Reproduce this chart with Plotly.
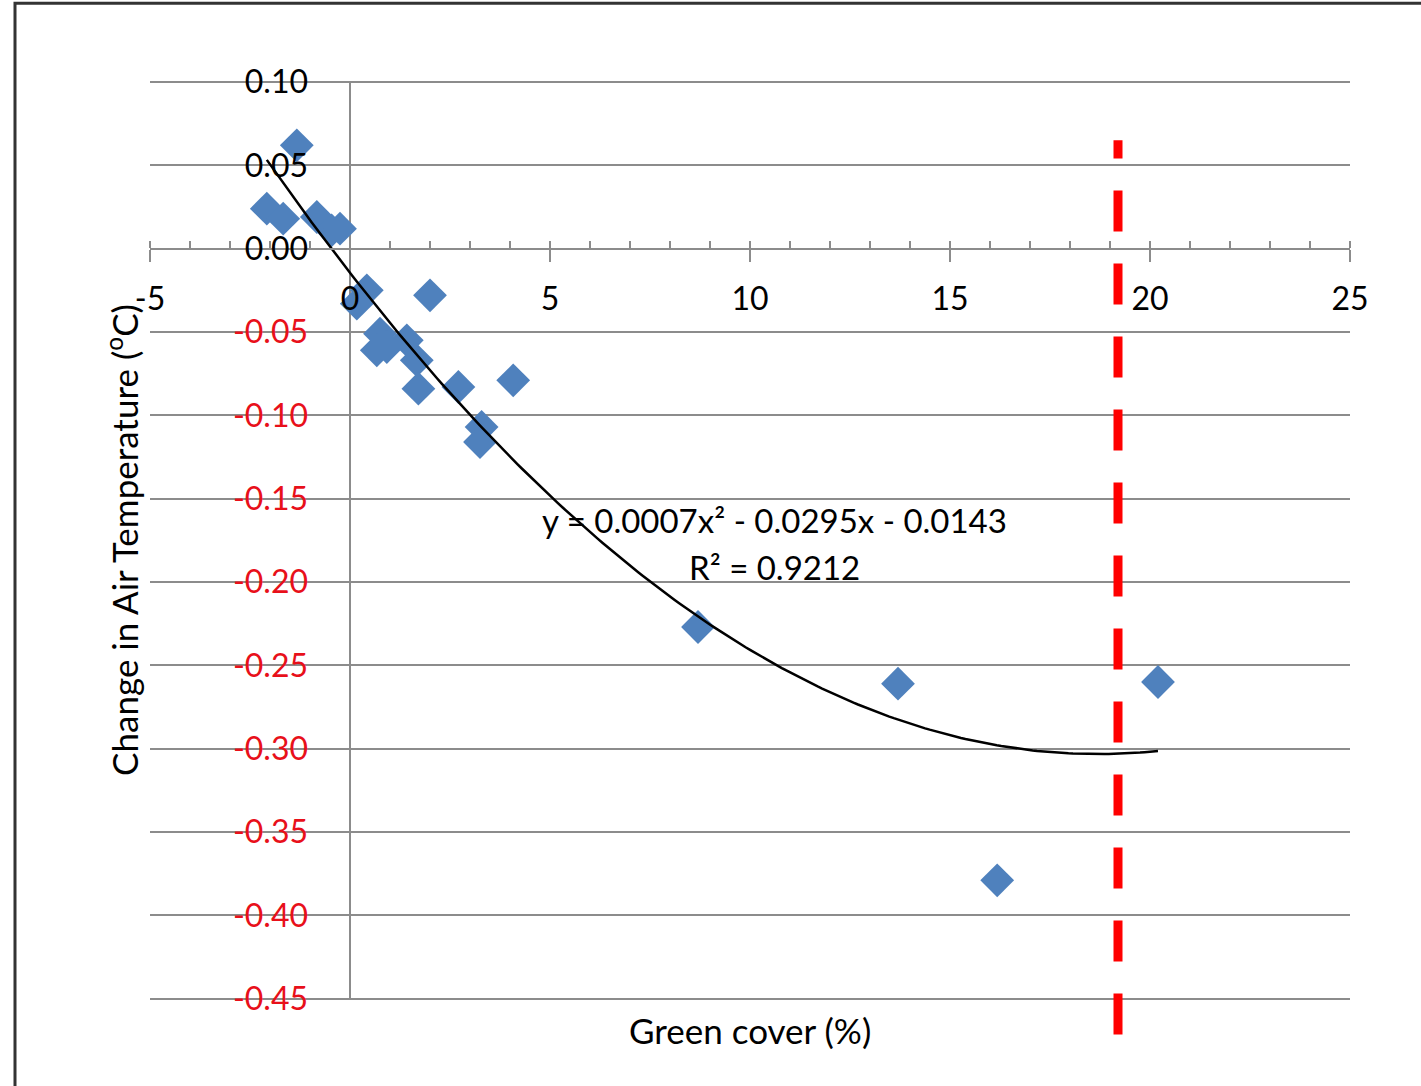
import numpy as np
import plotly.graph_objects as go

# Data
green_cover = [-1.33, -2.08, -1.67, -0.83, -0.46, -0.25, 0.42, 0.17, 2.0, 0.75, 0.67, 0.92,
               1.42, 1.67, 1.71, 2.71, 4.08, 3.29, 3.25, 8.7, 13.7, 16.18, 20.2]
temp_change = [0.062, 0.024, 0.018, 0.019, 0.011, 0.012, -0.025, -0.033, -0.028, -0.051, -0.061, -0.059,
               -0.055, -0.067, -0.084, -0.083, -0.079, -0.107, -0.116, -0.227, -0.261, -0.379, -0.260]

threshold_x = 19.2
threshold_y = [-0.4715, 0.065]

x_ticks = [-5, 0, 5, 10, 15, 20, 25]
y_ticks = [0.10, 0.05, 0.00, -0.05, -0.10, -0.15, -0.20, -0.25, -0.30, -0.35, -0.40, -0.45]

eq_text = "y = 0.0007x² - 0.0295x - 0.0143"
r2_text = "R² = 0.9212"

x_range = [-5, 25]
y_range = [-0.4724, 0.1012]

FONT = "Lato"
GRAY = "#8c8c8c"

# Polynomial (order 2) trendline fitted to the data
coef = np.polyfit(green_cover, temp_change, 2)
x_fit = np.linspace(min(green_cover), max(green_cover), 200)
y_fit = np.polyval(coef, x_fit)

fig = go.Figure()

fig.add_trace(go.Scatter(
    x=[threshold_x, threshold_x], y=threshold_y, mode="lines",
    line=dict(color="#ff0000", width=9, dash="41px,32px"),
    hoverinfo="skip", showlegend=False))

fig.add_trace(go.Scatter(
    x=green_cover, y=temp_change, mode="markers",
    marker=dict(symbol="diamond", size=26, color="#4f81bd"),
    showlegend=False))

fig.add_trace(go.Scatter(
    x=x_fit, y=y_fit, mode="lines",
    line=dict(color="black", width=2.5), hoverinfo="skip", showlegend=False))

y_ticktext = [f'<span style="color:#e8101a">{v:.2f}</span>' if v < 0 else f"{v:.2f}" for v in y_ticks]

x_pos = (0 - y_range[0]) / (y_range[1] - y_range[0])
y_pos = (0 - x_range[0]) / (x_range[1] - x_range[0])

fig.update_layout(
    width=1421, height=1086,
    margin=dict(l=150, r=71, t=80, b=50),
    paper_bgcolor="white", plot_bgcolor="white",
    font=dict(family=FONT, size=32, color="black"),
    xaxis=dict(
        range=x_range, anchor="free", position=x_pos,
        tickvals=x_ticks, ticktext=[str(v) for v in x_ticks],
        showgrid=False, zeroline=False,
        showline=True, linecolor=GRAY, linewidth=2,
        ticks="outside", ticklen=12, tickwidth=2, tickcolor=GRAY,
        ticklabelstandoff=10,
        minor=dict(dtick=1, ticks="inside", ticklen=7, tickwidth=2, tickcolor=GRAY),
        tickfont=dict(family=FONT, size=32, color="black"),
    ),
    yaxis=dict(
        range=y_range, anchor="free", position=y_pos,
        tickvals=y_ticks, ticktext=y_ticktext,
        showgrid=True, gridcolor=GRAY, gridwidth=2,
        zeroline=False, showline=False, ticks="",
        ticklabelstandoff=42,
        tickfont=dict(family=FONT, size=32, color="black"),
    ),
    shapes=[
        dict(type="line", xref="x", yref="y", x0=0, x1=0,
             y0=min(y_ticks), y1=max(y_ticks), line=dict(color=GRAY, width=2), layer="below"),
        dict(type="rect", xref="paper", yref="paper", x0=-0.1125, x1=2, y0=-1, y1=1.0802,
             line=dict(color="#333333", width=3), fillcolor="rgba(0,0,0,0)"),
    ],
    annotations=[
        dict(text=eq_text, x=10.6, y=-0.163, xref="x", yref="y", showarrow=False,
             font=dict(family=FONT, size=33, color="black")),
        dict(text=r2_text, x=10.6, y=-0.191, xref="x", yref="y", showarrow=False,
             font=dict(family=FONT, size=33, color="black")),
        dict(text="Green cover (%)", x=0.5, y=0.0058, xref="paper", yref="paper",
             showarrow=False, yanchor="middle", font=dict(family=FONT, size=35, color="black")),
        dict(text="Change in Air Temperature (<sup>o</sup>C)", x=-0.0233, y=0.519,
             xref="paper", yref="paper", showarrow=False, textangle=-90,
             xanchor="center", yanchor="middle", font=dict(family=FONT, size=35, color="black")),
    ],
)

fig.write_html("out.html")
